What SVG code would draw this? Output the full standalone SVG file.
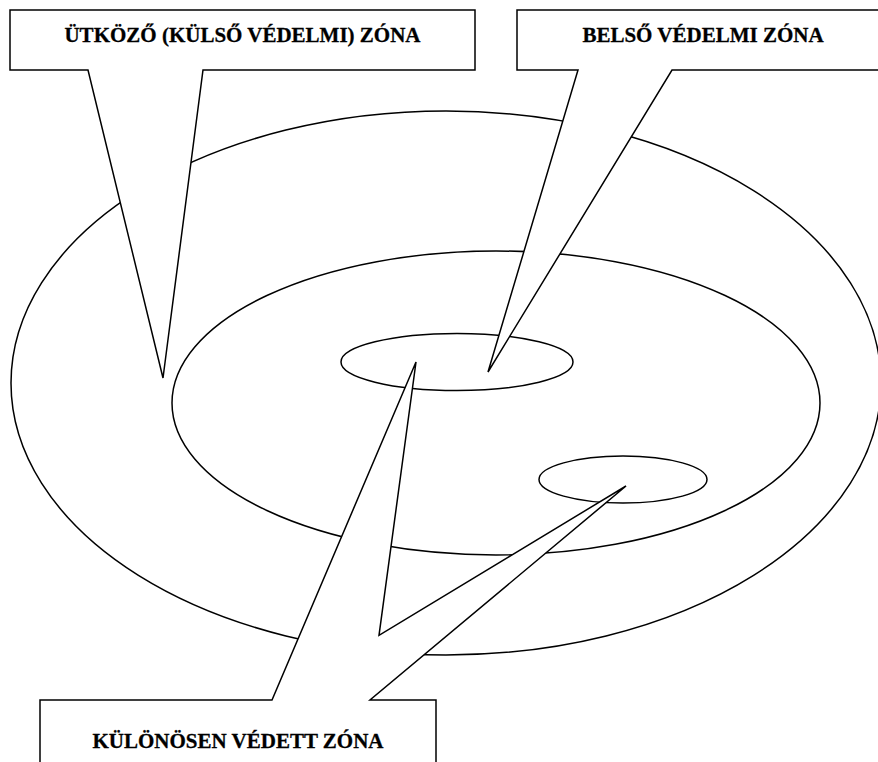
<svg xmlns="http://www.w3.org/2000/svg" width="878" height="762" viewBox="0 0 878 762">
  <style>
    .zone { fill: none; stroke: #000; stroke-width: 1.5; }
    .callout { fill: #fff; stroke: #000; stroke-width: 1.5; stroke-linejoin: miter; }
    .lbl { font-family: "Liberation Serif", "Times New Roman", serif; font-weight: bold; font-size: 21px; fill: #000; stroke: #000; stroke-width: 0.3; text-anchor: middle; }
  </style>
  <rect width="878" height="762" fill="#fff"/>
  <g id="zones">
    <ellipse id="outer-zone" class="zone" cx="446" cy="383" rx="435" ry="272"/>
    <ellipse id="inner-zone" class="zone" cx="496" cy="403" rx="324" ry="152"/>
    <ellipse id="special-zone-1" class="zone" cx="457" cy="362" rx="116" ry="28.5"/>
    <ellipse id="special-zone-2" class="zone" cx="623" cy="479.5" rx="84" ry="23.5"/>
  </g>
  <g id="callout-buffer">
    <path class="callout" d="M10,10 H475 V70 H203 L163,378 L88,70 H10 Z"/>
    <text class="lbl" x="242.5" y="42">ÜTKÖZŐ (KÜLSŐ VÉDELMI) ZÓNA</text>
  </g>
  <g id="callout-inner">
    <path class="callout" d="M517,10 H889 V70 H672 L488,372 L578,70 H517 Z"/>
    <text class="lbl" x="703" y="42">BELSŐ VÉDELMI ZÓNA</text>
  </g>
  <g id="callout-special">
    <path class="callout" d="M40,700 H272 L416,362 L379,635.3 L626,486 L370,700 H436 V775 H40 Z"/>
    <text class="lbl" x="238" y="748">KÜLÖNÖSEN VÉDETT ZÓNA</text>
  </g>
</svg>
